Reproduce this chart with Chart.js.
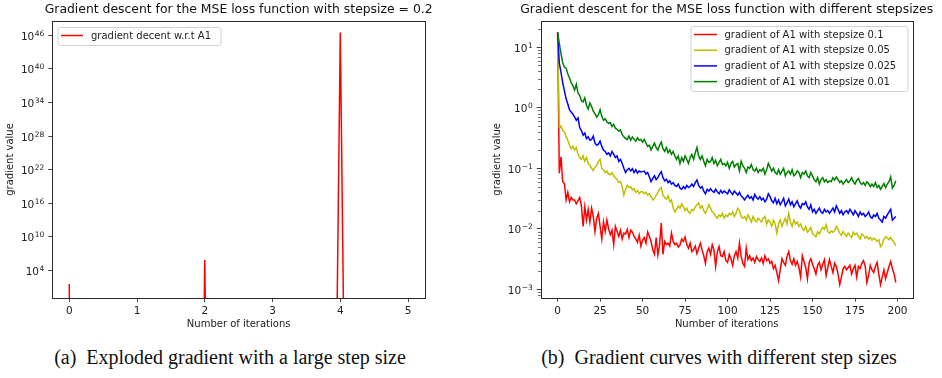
<!DOCTYPE html>
<html>
<head>
<meta charset="utf-8">
<script src="https://cdn.jsdelivr.net/npm/chart.js@4.4.1/dist/chart.umd.min.js"></script>
<style>
  body { margin: 0; background: #fff; width: 942px; height: 378px; overflow: hidden; position: relative; }
  #left { position: absolute; left: 0; top: 0; }
  #right { position: absolute; left: 470px; top: 0; }
  .cap { position: absolute; top: 346px; width: 480px; text-align: center; line-height: 22px;
         font-family: "Liberation Serif", serif; font-size: 20px; color: #111; white-space: pre; }
</style>
</head>
<body>
<canvas id="left" width="470" height="340"></canvas>
<canvas id="right" width="472" height="340"></canvas>
<div class="cap" style="left:-10px">(a)  Exploded gradient with a large step size</div>
<div class="cap" style="left:479px">(b)  Gradient curves with different step sizes</div>
<script>
// ---- data: left plot (stepsize 0.2), negative values are clipped on the log axis
const iterLeft = [0, 1, 2, 3, 4, 5];
const gradLeft = [38, -2.4e3, 7.1e5, -1.6e23, 3.2e46, -5.0e92];
const iterTicksLeft = [0, 1, 2, 3, 4, 5];
const yTicksLeft = [1e4, 1e10, 1e16, 1e22, 1e28, 1e34, 1e40, 1e46];

// ---- data: right plot (200 iterations, four step sizes)
const iterRight = Array.from({ length: 200 }, (_, i) => i);
const iterTicksRight = [0, 25, 50, 75, 100, 125, 150, 175, 200];
const yTicksRight = [1e-3, 1e-2, 1e-1, 1e0, 1e1];
const stepLabels = ['gradient of A1 with stepsize 0.1', 'gradient of A1 with stepsize 0.05',
                    'gradient of A1 with stepsize 0.025', 'gradient of A1 with stepsize 0.01'];

const grad01 = [
  17.5, 0.083, 0.155, 0.06, 0.056, 0.03, 0.04, 0.028, 0.033, 0.03,
  0.03, 0.026, 0.029, 0.033, 0.024, 0.011, 0.023, 0.014, 0.021, 0.013,
  0.022, 0.016, 0.009, 0.015, 0.018, 0.011, 0.0068, 0.013, 0.009, 0.014,
  0.01, 0.008, 0.0095, 0.0055, 0.011, 0.009, 0.0075, 0.0095, 0.0068, 0.0085,
  0.0082, 0.0098, 0.0072, 0.0095, 0.0088, 0.0075, 0.0068, 0.006, 0.0078, 0.0052,
  0.0065, 0.0072, 0.0058, 0.0089, 0.0075, 0.0062, 0.0045, 0.0038, 0.0072, 0.0037,
  0.0055, 0.0125, 0.0038, 0.0062, 0.0055, 0.0058, 0.0052, 0.0085, 0.0062, 0.0055,
  0.0058, 0.005, 0.0054, 0.0068, 0.0062, 0.0073, 0.0055, 0.0048, 0.0058, 0.0042,
  0.0045, 0.0052, 0.0039, 0.0048, 0.0058, 0.0045, 0.0036, 0.0027, 0.0042, 0.0048,
  0.0038, 0.0055, 0.0045, 0.0024, 0.0042, 0.0051, 0.0036, 0.0035, 0.0042, 0.003,
  0.0028, 0.0038, 0.0032, 0.0025, 0.0036, 0.0042, 0.0033, 0.0058, 0.0035, 0.0027,
  0.0024, 0.0048, 0.0031, 0.0036, 0.003, 0.0033, 0.0028, 0.0035, 0.0031, 0.0029,
  0.0033, 0.0027, 0.0036, 0.003, 0.0032, 0.0027, 0.0029, 0.0022, 0.0025, 0.0019,
  0.0014, 0.0021, 0.0032, 0.0028, 0.0025, 0.0035, 0.0042, 0.003, 0.0026, 0.0032,
  0.0025, 0.0029, 0.0023, 0.0016, 0.0036, 0.0029, 0.0023, 0.0015, 0.0028, 0.0032,
  0.0026, 0.0022, 0.0018, 0.0025, 0.0028, 0.0021, 0.0026, 0.0031, 0.0017, 0.0023,
  0.0031, 0.0024, 0.0019, 0.0027, 0.0024, 0.0018, 0.0012, 0.0016, 0.0022, 0.0024,
  0.0021, 0.0023, 0.0025, 0.0018, 0.0022, 0.0025, 0.0016, 0.0024, 0.0022, 0.0027,
  0.003, 0.0024, 0.0013, 0.0017, 0.0025, 0.0021, 0.0019, 0.0024, 0.0028, 0.0018,
  0.0012, 0.0016, 0.0021, 0.0015, 0.0019, 0.0024, 0.0029, 0.0022, 0.0018, 0.0013
];
const grad005 = [
  17.5, 0.48, 0.5, 0.42, 0.4, 0.33, 0.29, 0.24, 0.21, 0.23,
  0.2, 0.22, 0.17, 0.15, 0.14, 0.16, 0.13, 0.15, 0.12, 0.11,
  0.1, 0.092, 0.105, 0.11, 0.13, 0.14, 0.1, 0.095, 0.085, 0.09,
  0.08, 0.078, 0.085, 0.075, 0.07, 0.065, 0.058, 0.06, 0.05, 0.036,
  0.045, 0.052, 0.048, 0.05, 0.044, 0.046, 0.04, 0.043, 0.038, 0.041,
  0.041, 0.038, 0.04, 0.036, 0.038, 0.034, 0.03, 0.032, 0.036, 0.04,
  0.045, 0.048, 0.036, 0.033, 0.031, 0.035, 0.028, 0.03, 0.022, 0.019,
  0.021, 0.024, 0.022, 0.026, 0.023, 0.02, 0.022, 0.019, 0.018, 0.021,
  0.02, 0.023, 0.025, 0.027, 0.022, 0.024, 0.02, 0.018, 0.021, 0.025,
  0.022, 0.019, 0.018, 0.016, 0.015, 0.017, 0.016, 0.018, 0.015, 0.017,
  0.016, 0.018, 0.017, 0.019, 0.016, 0.018, 0.022, 0.02, 0.016, 0.015,
  0.016, 0.014, 0.017, 0.015, 0.013, 0.016, 0.014, 0.013, 0.015, 0.014,
  0.013, 0.015, 0.016, 0.012, 0.014, 0.013, 0.011, 0.014, 0.012, 0.0085,
  0.012, 0.014, 0.011, 0.013, 0.015, 0.012, 0.018, 0.013, 0.011, 0.014,
  0.012, 0.013, 0.011, 0.012, 0.01, 0.0095, 0.011, 0.0088, 0.0095, 0.0105,
  0.0085, 0.0078, 0.0074, 0.009, 0.0082, 0.0095, 0.0105, 0.0098, 0.0117, 0.009,
  0.0085, 0.0092, 0.0088, 0.0095, 0.011, 0.0098, 0.0085, 0.0078, 0.009, 0.0082,
  0.0075, 0.0085, 0.0078, 0.0072, 0.0088, 0.008, 0.0085, 0.0075, 0.0068, 0.0082,
  0.0078, 0.007, 0.0075, 0.0068, 0.0072, 0.0065, 0.007, 0.0068, 0.0062, 0.0066,
  0.0051, 0.0055, 0.0068, 0.0074, 0.0072, 0.0066, 0.0072, 0.0064, 0.006, 0.0053
];
const grad0025 = [
  17.5, 5.5, 3.8, 2.6, 1.9, 1.4, 1.15, 0.92, 0.85, 0.78,
  0.7, 0.62, 0.68, 0.47, 0.42, 0.35, 0.38, 0.31, 0.33, 0.29,
  0.3, 0.34, 0.26, 0.24, 0.25, 0.28, 0.23, 0.2, 0.19, 0.17,
  0.18, 0.16, 0.19, 0.17, 0.15, 0.16, 0.13, 0.14, 0.12, 0.1,
  0.085, 0.095, 0.1, 0.09, 0.098, 0.085, 0.095, 0.083, 0.09, 0.087,
  0.088, 0.09, 0.08, 0.085, 0.072, 0.06, 0.068, 0.075, 0.065, 0.07,
  0.08, 0.088, 0.07, 0.062, 0.066, 0.058, 0.062, 0.055, 0.058, 0.052,
  0.05, 0.055, 0.047, 0.045, 0.05, 0.046, 0.052, 0.048, 0.05, 0.055,
  0.05, 0.058, 0.064, 0.052, 0.047, 0.05, 0.042, 0.038, 0.045, 0.042,
  0.046, 0.042, 0.04, 0.045, 0.041, 0.038, 0.043, 0.039, 0.042, 0.04,
  0.038, 0.044, 0.04, 0.037, 0.042, 0.039, 0.036, 0.04, 0.035, 0.033,
  0.03, 0.033, 0.036, 0.032, 0.034, 0.03, 0.037, 0.033, 0.031, 0.034,
  0.03, 0.032, 0.028, 0.031, 0.038, 0.034, 0.029, 0.027, 0.032, 0.026,
  0.03, 0.025, 0.028, 0.032, 0.024, 0.027, 0.031, 0.025, 0.028, 0.023,
  0.026, 0.029, 0.024, 0.022, 0.026, 0.025, 0.028, 0.023, 0.021, 0.025,
  0.019, 0.021, 0.018, 0.02, 0.022, 0.019, 0.018, 0.021, 0.019, 0.02,
  0.018, 0.02, 0.022, 0.019, 0.024, 0.021, 0.018, 0.02, 0.017, 0.019,
  0.02, 0.018, 0.021, 0.019, 0.017, 0.02, 0.018, 0.016, 0.019, 0.017,
  0.018, 0.016, 0.017, 0.019, 0.016, 0.015, 0.017, 0.016, 0.018, 0.015,
  0.014, 0.013, 0.016, 0.015, 0.017, 0.019, 0.021, 0.014, 0.015, 0.016
];
const grad001 = [
  17.5, 11.5, 7.8, 5.5, 4.7, 4.5, 3.6, 3.1, 2.6, 2.3,
  1.95, 2.45, 1.75, 1.6, 1.3, 1.25, 1.45, 1.1, 0.95, 1.2,
  1.05, 0.88, 0.8, 0.7, 0.76, 0.93, 0.72, 0.62, 0.66, 0.58,
  0.55, 0.57, 0.49, 0.53, 0.46, 0.44, 0.41, 0.43, 0.36, 0.33,
  0.31, 0.3, 0.34, 0.29, 0.33, 0.3, 0.28, 0.32, 0.29, 0.3,
  0.27, 0.3, 0.26, 0.23, 0.24, 0.2, 0.23, 0.26, 0.22, 0.2,
  0.24, 0.27, 0.21, 0.19, 0.22, 0.18, 0.2, 0.17, 0.19, 0.16,
  0.14, 0.16, 0.12, 0.15, 0.13, 0.16, 0.14, 0.12, 0.15, 0.17,
  0.14, 0.18, 0.22, 0.16, 0.14, 0.16, 0.13, 0.11, 0.14, 0.125,
  0.13, 0.15, 0.12, 0.135, 0.11, 0.125, 0.14, 0.115, 0.12, 0.11,
  0.125, 0.1, 0.12, 0.13, 0.105, 0.115, 0.12, 0.09, 0.13, 0.11,
  0.1, 0.085, 0.105, 0.1, 0.115, 0.095, 0.09, 0.1, 0.085, 0.095,
  0.09, 0.1, 0.08, 0.095, 0.12, 0.105, 0.09, 0.1, 0.085, 0.08,
  0.095, 0.08, 0.09, 0.1, 0.075, 0.085, 0.09, 0.08, 0.095, 0.075,
  0.08, 0.09, 0.085, 0.07, 0.085, 0.08, 0.09, 0.075, 0.07, 0.085,
  0.075, 0.065, 0.06, 0.07, 0.055, 0.065, 0.07, 0.06, 0.065, 0.058,
  0.062, 0.06, 0.07, 0.064, 0.072, 0.065, 0.058, 0.062, 0.055, 0.06,
  0.065, 0.058, 0.062, 0.07, 0.06, 0.055, 0.063, 0.068, 0.058, 0.054,
  0.058, 0.052, 0.06, 0.056, 0.05, 0.055, 0.05, 0.058, 0.048, 0.052,
  0.045, 0.05, 0.056, 0.048, 0.055, 0.06, 0.072, 0.047, 0.052, 0.062
];

const FONT = "'DejaVu Sans', sans-serif";
const INK = '#222';
Chart.defaults.font.family = FONT;
Chart.defaults.color = INK;

// log axis that clips non-positive values far below the axis, like matplotlib does
class ClipLogScale extends Chart.LogarithmicScale {
  parse(raw, index) {
    const v = Number(raw);
    if (isFinite(v) && v < 0) return v;
    return super.parse(raw, index);
  }
  getPixelForValue(value) {
    if (typeof value === 'number' && value < 0) {
      return this.getPixelForDecimal((-1000 - this._startValue) / this._valueRange);
    }
    return super.getPixelForValue(value);
  }
}
ClipLogScale.id = 'clipLog';
ClipLogScale.defaults = Chart.LogarithmicScale.defaults;
Chart.register(ClipLogScale);

const exponentOf = v => String(Math.round(Math.log10(v))).replace('-', '\u2212');

// frame, minor ticks, power-of-ten labels, title and legend (drawn like matplotlib)
const decor = {
  id: 'decor',
  afterDatasetsDraw(chart, args, opts) {
    const { ctx, chartArea: a } = chart;
    const ys = chart.scales.y;
    ctx.save();
    if (opts.minor) {
      ctx.strokeStyle = '#333';
      ctx.lineWidth = 0.8;
      for (let e = -4; e <= 1; e++) {
        for (let k = 2; k <= 9; k++) {
          const v = k * Math.pow(10, e);
          if (v < ys.min || v > ys.max) continue;
          const py = Math.round(ys.getPixelForValue(v)) + 0.5;
          ctx.beginPath();
          ctx.moveTo(a.left - 2.5, py);
          ctx.lineTo(a.left, py);
          ctx.stroke();
        }
      }
    }
    ctx.strokeStyle = '#2a2a2a';
    ctx.lineWidth = 1;
    ctx.strokeRect(Math.round(a.left) + 0.5, Math.round(a.top) + 0.5,
                   Math.round(a.right - a.left), Math.round(a.bottom - a.top));

    // y tick labels as 10 with a raised exponent
    ctx.fillStyle = INK;
    ctx.textBaseline = 'alphabetic';
    ys.ticks.forEach(t => {
      const py = ys.getPixelForValue(t.value);
      const exp = exponentOf(t.value);
      ctx.font = '7.5px ' + FONT;
      const ew = ctx.measureText(exp).width;
      const right = a.left - 8;
      ctx.textAlign = 'left';
      ctx.fillText(exp, right - ew, py + 0.5);
      ctx.font = '10.5px ' + FONT;
      ctx.textAlign = 'right';
      ctx.fillText('10', right - ew - 0.5, py + 4.5);
    });

    ctx.fillStyle = '#111';
    ctx.font = '12.4px ' + FONT;
    ctx.textAlign = 'center';
    ctx.textBaseline = 'middle';
    ctx.fillText(opts.title, (a.left + a.right) / 2, 9.5);

    const lg = opts.legend;
    ctx.beginPath();
    ctx.roundRect(lg.x + 0.5, lg.y + 0.5, lg.w, lg.h, 2.5);
    ctx.fillStyle = 'rgba(255,255,255,0.85)';
    ctx.fill();
    ctx.strokeStyle = '#d0d0d0';
    ctx.lineWidth = 1;
    ctx.stroke();
    ctx.font = '10px ' + FONT;
    ctx.textAlign = 'left';
    chart.data.datasets.forEach((ds, i) => {
      const ry = lg.row0 + i * lg.rowH;
      ctx.strokeStyle = ds.borderColor;
      ctx.lineWidth = 1.5;
      ctx.beginPath();
      ctx.moveTo(lg.lineX1, ry);
      ctx.lineTo(lg.lineX2, ry);
      ctx.stroke();
      ctx.fillStyle = INK;
      ctx.fillText(ds.label, lg.textX, ry + 0.5);
    });
    ctx.restore();
  }
};

const tickGrid = { drawOnChartArea: false, drawTicks: true, tickLength: 4, color: '#333', lineWidth: 0.9 };

function xAxis(min, max, ticks, h) {
  return {
    type: 'linear', min, max,
    afterBuildTicks: s => { s.ticks = ticks.map(v => ({ value: v })); },
    afterFit: s => { s.height = h; },
    grid: tickGrid,
    border: { display: false },
    ticks: { color: INK, font: { size: 10.5 }, padding: 3, maxRotation: 0, autoSkip: false },
    title: { display: true, text: 'Number of iterations', color: INK, font: { size: 10 },
             padding: { top: 0, bottom: 9.5 } }
  };
}

function yAxis(type, min, max, ticks, w, titlePad) {
  return {
    type, min, max,
    afterBuildTicks: s => { s.ticks = ticks.map(v => ({ value: v })); },
    afterFit: s => { s.width = w; },
    grid: tickGrid,
    border: { display: false },
    ticks: { display: false },
    title: { display: true, text: 'gradient value', color: INK, font: { size: 10 },
             padding: { top: titlePad, bottom: 0 } }
  };
}

const common = {
  responsive: false,
  animation: false,
  events: [],
  elements: { point: { radius: 0 }, line: { borderWidth: 1.5, tension: 0 } },
};

new Chart(document.getElementById('left'), {
  type: 'line',
  data: {
    datasets: [{
      label: 'gradient decent w.r.t A1',
      data: iterLeft.map((x, i) => ({ x, y: gradLeft[i] })),
      borderColor: '#ff0000',
      fill: false
    }]
  },
  options: {
    ...common,
    layout: { padding: { top: 21, right: 45, bottom: 0, left: 0 } },
    scales: {
      x: xAxis(-0.25, 5.25, iterTicksLeft, 42),
      y: yAxis('clipLog', 0.12, 3.5e48, yTicksLeft, 52.3, 4.7)
    },
    plugins: {
      legend: { display: false },
      tooltip: { enabled: false },
      decor: {
        title: 'Gradient descent for the MSE loss function with stepsize = 0.2',
        minor: false,
        legend: { x: 57.5, y: 27, w: 163, h: 18, row0: 35.5, rowH: 15.7, lineX1: 61, lineX2: 83, textX: 91 }
      }
    }
  },
  plugins: [decor]
});

const stepSeries = [grad01, grad005, grad0025, grad001];
const stepColors = ['#ff0000', '#bfbf00', '#0000ff', '#008000'];

new Chart(document.getElementById('right'), {
  type: 'line',
  data: {
    datasets: stepSeries.map((vals, k) => ({
      label: stepLabels[k],
      data: iterRight.map((x, i) => ({ x, y: vals[i] })),
      borderColor: stepColors[k],
      order: 4 - k,
      fill: false
    }))
  },
  options: {
    ...common,
    layout: { padding: { top: 21, right: 29.3, bottom: 0, left: 0 } },
    scales: {
      x: xAxis(-9.95, 208.95, iterTicksRight, 42.3),
      y: yAxis('logarithmic', 7.3e-4, 27, yTicksRight, 70.7, 21.3)
    },
    plugins: {
      legend: { display: false },
      tooltip: { enabled: false },
      decor: {
        title: 'Gradient descent for the MSE loss function with different stepsizes',
        minor: true,
        legend: { x: 220.5, y: 26, w: 217, h: 65, row0: 34.5, rowH: 15.7, lineX1: 224, lineX2: 247, textX: 254.5 }
      }
    }
  },
  plugins: [decor]
});
</script>
</body>
</html>
